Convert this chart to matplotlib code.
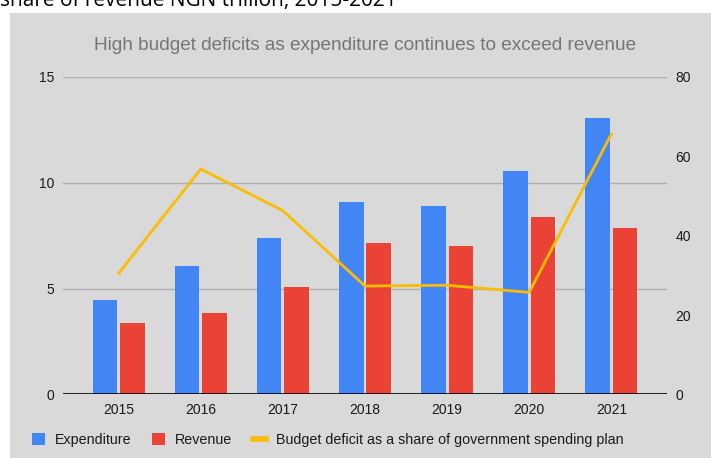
import numpy as np
import matplotlib.pyplot as plt
from matplotlib.patches import Rectangle, Patch
from matplotlib.lines import Line2D

# data, NGN trillion and percent
years = ['2015', '2016', '2017', '2018', '2019', '2020', '2021']
expenditure = [4.45, 6.06, 7.41, 9.08, 8.91, 10.55, 13.05]
revenue = [3.38, 3.85, 5.07, 7.17, 7.01, 8.39, 7.87]
deficit_share = [30.5, 56.8, 46.3, 27.3, 27.5, 25.7, 65.6]

blue = '#4285F4'
red = '#EA4335'
yellow = '#FBBC04'
bg = '#d9d9d9'

plt.rcParams['font.family'] = ['Liberation Sans', 'DejaVu Sans']

fig = plt.figure(figsize=(7.11, 4.58), dpi=100)
fig.patch.set_facecolor('white')
# grey chart panel
fig.patches.append(Rectangle((10/711, 0), 1, (458-12.7)/458, transform=fig.transFigure,
                             facecolor=bg, edgecolor='none', zorder=-10))

# cropped heading at the very top
fig.text(0.0, (458-6)/458, 'share of revenue NGN trillion, 2015-2021', family='Open Sans',
         fontsize=15, color='black', ha='left', va='baseline')

ax = fig.add_axes([63/711, 0.139, (667-63)/711, 0.6929])
ax.set_facecolor(bg)
x = np.arange(len(years))
w = 0.30
ax.bar(x - 0.167, expenditure, w, color=blue, zorder=3)
ax.bar(x + 0.167, revenue, w, color=red, zorder=3)
ax.set_ylim(0, 15)
ax.set_yticks([0, 5, 10, 15])
ax.set_xlim(-0.678, 6.678)
ax.set_xticks(x)
ax.set_xticklabels(years)
ax.grid(axis='y', color='#b0b0b0', lw=1, zorder=0)
ax.axhline(0, color='black', lw=1.2, zorder=4)
for s in ax.spines.values():
    s.set_visible(False)
ax.tick_params(length=0, labelsize=10, colors='#1a1a1a')
ax.tick_params(axis='y', pad=6)
ax.tick_params(axis='x', pad=6)

ax2 = ax.twinx()
ax2.plot(x, deficit_share, color=yellow, lw=2, zorder=5)
ax2.set_ylim(0, 80)
ax2.set_yticks([0, 20, 40, 60, 80])
for s in ax2.spines.values():
    s.set_visible(False)
ax2.tick_params(length=0, labelsize=10, colors='#1a1a1a', pad=6)

fig.text(365/711, (458-45)/458, 'High budget deficits as expenditure continues to exceed revenue',
         ha='center', va='center', fontsize=13.7, color='#757575')

handles = [Patch(facecolor=blue), Patch(facecolor=red), Line2D([], [], color=yellow, lw=4)]
labels = ['Expenditure', 'Revenue', 'Budget deficit as a share of government spending plan']
fig.legend(handles, labels, loc='center left', bbox_to_anchor=(19/711, (458-440)/458), ncol=3,
           frameon=False, fontsize=10.3, handlelength=0.9, handleheight=0.9,
           handletextpad=0.7, columnspacing=1.45, labelcolor='#1a1a1a')

fig.savefig('out.png', dpi=100, facecolor='white')
